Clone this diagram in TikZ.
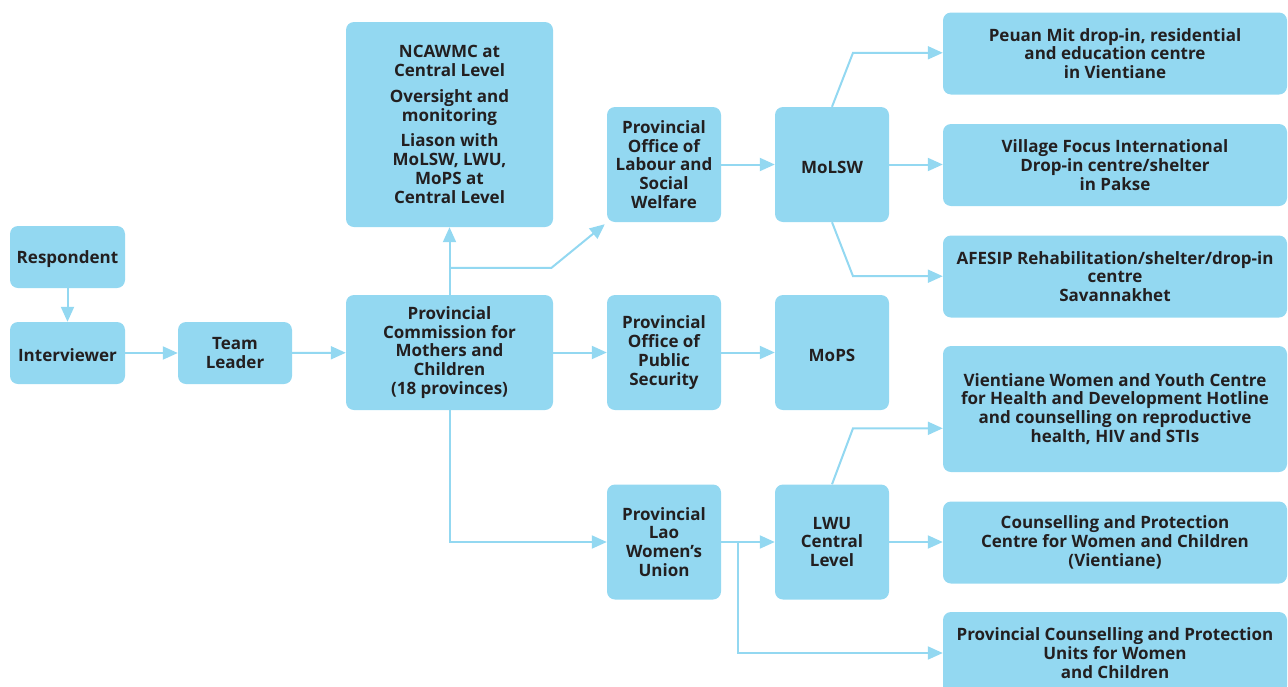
\documentclass[tikz,border=0pt]{standalone}
\usepackage{fontspec}
\setmainfont{Open Sans}
\usepackage{xcolor}
\usetikzlibrary{arrows.meta,calc,positioning}
\definecolor{boxblue}{HTML}{93D8F1}
\definecolor{boxtext}{HTML}{231F20}

\begin{document}
\begin{tikzpicture}[
    x=1pt, y=-1pt,
    box/.style={rectangle, rounded corners=8pt, fill=boxblue, draw=none, text=boxtext,
        font=\bfseries\fontsize{17}{18.8}\selectfont, align=center, inner sep=0,
        execute at begin node={\rule{0pt}{18pt}}},
    smallbox/.style={box, minimum width=115pt, minimum height=62pt},
    midbox/.style={box, minimum width=114pt, minimum height=115pt},
    widebox/.style={box, minimum width=344pt, minimum height=82pt},
    link/.style={draw=boxblue, line width=2pt, -{Triangle[length=15pt,width=13pt]}}]
\useasboundingbox (0,0) rectangle (1288,686);

\node[smallbox] (resp) at (67.5,257) {Respondent};
\node[smallbox] (intv) at (67.5,353) {Interviewer};
\node[smallbox, minimum width=114pt] (lead) at (235,353) {Team\\Leader};
\node[box, minimum width=207pt, minimum height=115pt] (pcmc) at (449.5,352.5) {Provincial\\Commission for\\Mothers and\\Children\\(18 provinces)};
\node[box, minimum width=207pt, minimum height=205pt] (ncaw) at (449.5,124.5) {NCAWMC at\\Central Level\\[7pt]Oversight and\\monitoring\\[7pt]Liason with\\MoLSW, LWU,\\MoPS at\\Central Level};
\node[midbox] (polsw) at (664,164.5) {Provincial\\Office of\\Labour and\\Social\\Welfare};
\node[midbox] (pops) at (664,352.5) {Provincial\\Office of\\Public\\Security};
\node[midbox] (plwu) at (664,542) {Provincial\\Lao\\Women’s\\Union};
\node[midbox] (molsw) at (832,164.5) {MoLSW};
\node[midbox] (mops) at (832,352.5) {MoPS};
\node[midbox] (lwu) at (832,542) {LWU\\Central\\Level};
\node[widebox] (peuan) at (1115,53.5) {Peuan Mit drop-in, residential\\and education centre\\in Vientiane};
\node[widebox] (vfi) at (1115,165) {Village Focus International\\Drop-in centre/shelter\\in Pakse};
\node[widebox] (afesip) at (1115,276.5) {AFESIP Rehabilitation/shelter/drop-in\\centre\\Savannakhet};
\node[widebox, minimum height=126pt] (vwyc) at (1115,409) {Vientiane Women and Youth Centre\\for Health and Development Hotline\\and counselling on reproductive\\health, HIV and STIs};
\node[widebox] (cpc) at (1115,542.5) {Counselling and Protection\\Centre for Women and Children\\(Vientiane)};
\node[widebox] (pcpu) at (1115,653) {Provincial Counselling and Protection\\Units for Women\\and Children};

\draw[link] (resp) -- (intv);
\draw[link] (intv) -- (lead);
\draw[link] (lead) -- (pcmc);
\draw[link] (pcmc) -- (ncaw);
\draw[link] ([yshift=27pt]pcmc.north) -- ++(102,0) -- ([xshift=-2pt,yshift=-2pt]polsw.south west);
\draw[link] (pcmc) -- (pops);
\draw[link] (pcmc.south) |- (plwu.west);
\draw[link] (polsw) -- (molsw);
\draw[link] (pops) -- (mops);
\draw[link] (plwu) -- (lwu);
\draw[link] ([xshift=17pt]plwu.east) |- (pcpu.west);
\draw[link] (molsw.north) -- ++(21,-54) coordinate (b1) -- (b1 -| peuan.west);
\draw[link] (molsw) -- (molsw -| vfi.west);
\draw[link] (molsw.south) -- ++(21,54) coordinate (b2) -- (b2 -| afesip.west);
\draw[link] (lwu.north) -- ++(21,-56) coordinate (b3) -- (b3 -| vwyc.west);
\draw[link] (lwu) -- (lwu -| cpc.west);



\end{tikzpicture}
\end{document}
